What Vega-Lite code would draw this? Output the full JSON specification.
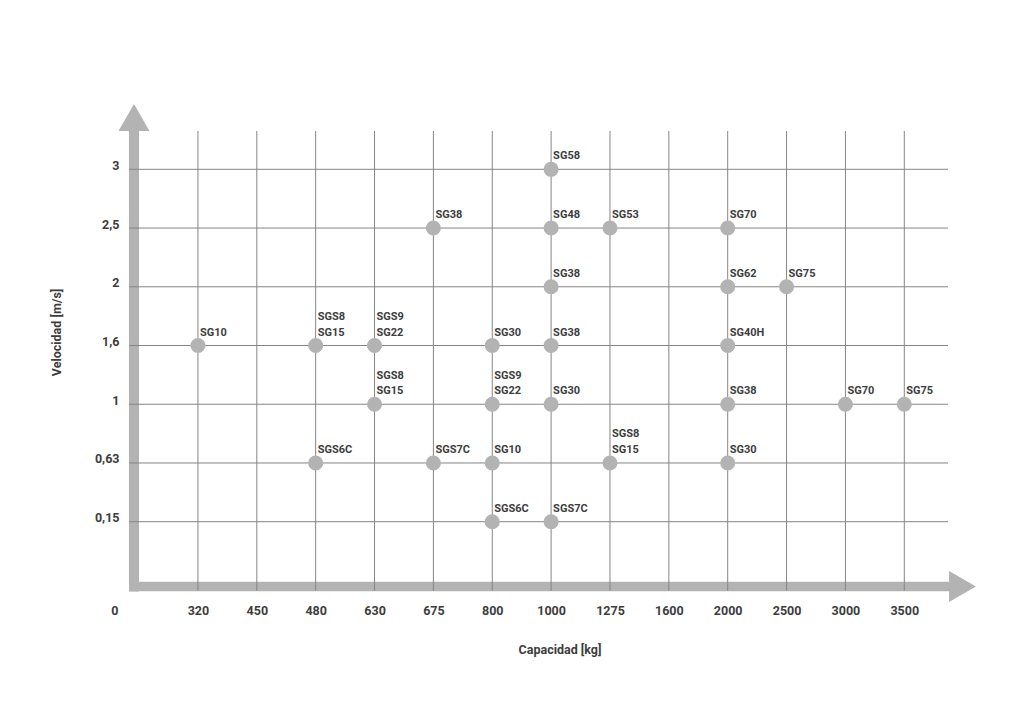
{
  "$schema": "https://vega.github.io/schema/vega-lite/v6.json",
  "width": 819,
  "height": 460,
  "autosize": {"type": "none"},
  "padding": {"left": 129, "top": 131, "right": 76, "bottom": 116},
  "background": "white",
  "config": {"view": {"stroke": null}, "font": "Roboto"},
  "datasets": {
    "capacidades": [
      {"capacidad": 320}, {"capacidad": 450}, {"capacidad": 480}, {"capacidad": 630},
      {"capacidad": 675}, {"capacidad": 800}, {"capacidad": 1000}, {"capacidad": 1275},
      {"capacidad": 1600}, {"capacidad": 2000}, {"capacidad": 2500}, {"capacidad": 3000},
      {"capacidad": 3500}
    ],
    "velocidades": [
      {"velocidad": 3}, {"velocidad": 2.5}, {"velocidad": 2}, {"velocidad": 1.6},
      {"velocidad": 1}, {"velocidad": 0.63}, {"velocidad": 0.15}
    ],
    "modelos": [
      {"capacidad": 320, "velocidad": 1.6, "modelo": "SG10"},
      {"capacidad": 480, "velocidad": 1.6, "modelo": "SG15", "modelo_sup": "SGS8"},
      {"capacidad": 480, "velocidad": 0.63, "modelo": "SGS6C"},
      {"capacidad": 630, "velocidad": 1.6, "modelo": "SG22", "modelo_sup": "SGS9"},
      {"capacidad": 630, "velocidad": 1, "modelo": "SG15", "modelo_sup": "SGS8"},
      {"capacidad": 675, "velocidad": 2.5, "modelo": "SG38"},
      {"capacidad": 675, "velocidad": 0.63, "modelo": "SGS7C"},
      {"capacidad": 800, "velocidad": 1.6, "modelo": "SG30"},
      {"capacidad": 800, "velocidad": 1, "modelo": "SG22", "modelo_sup": "SGS9"},
      {"capacidad": 800, "velocidad": 0.63, "modelo": "SG10"},
      {"capacidad": 800, "velocidad": 0.15, "modelo": "SGS6C"},
      {"capacidad": 1000, "velocidad": 3, "modelo": "SG58"},
      {"capacidad": 1000, "velocidad": 2.5, "modelo": "SG48"},
      {"capacidad": 1000, "velocidad": 2, "modelo": "SG38"},
      {"capacidad": 1000, "velocidad": 1.6, "modelo": "SG38"},
      {"capacidad": 1000, "velocidad": 1, "modelo": "SG30"},
      {"capacidad": 1000, "velocidad": 0.15, "modelo": "SGS7C"},
      {"capacidad": 1275, "velocidad": 2.5, "modelo": "SG53"},
      {"capacidad": 1275, "velocidad": 0.63, "modelo": "SG15", "modelo_sup": "SGS8"},
      {"capacidad": 2000, "velocidad": 2.5, "modelo": "SG70"},
      {"capacidad": 2000, "velocidad": 2, "modelo": "SG62"},
      {"capacidad": 2000, "velocidad": 1.6, "modelo": "SG40H"},
      {"capacidad": 2000, "velocidad": 1, "modelo": "SG38"},
      {"capacidad": 2000, "velocidad": 0.63, "modelo": "SG30"},
      {"capacidad": 2500, "velocidad": 2, "modelo": "SG75"},
      {"capacidad": 3000, "velocidad": 1, "modelo": "SG70"},
      {"capacidad": 3500, "velocidad": 1, "modelo": "SG75"}
    ]
  },
  "layer": [
    {
      "data": {"values": [{}]},
      "layer": [
        {
          "mark": {"type": "rule", "color": "#b3b3b3", "strokeWidth": 10, "strokeCap": "square"},
          "encoding": {
            "x": {"datum": 0, "type": "quantitative", "scale": {"domain": [0, 1], "range": [5, 819]}, "axis": null},
            "y": {"datum": 0, "type": "quantitative", "scale": {"domain": [0, 1], "range": [455.5, 0]}, "axis": null},
            "y2": {"datum": 1}
          }
        },
        {
          "mark": {"type": "rule", "color": "#b3b3b3", "strokeWidth": 9.5, "strokeCap": "square"},
          "encoding": {
            "x": {"datum": 0, "type": "quantitative"},
            "x2": {"datum": 1},
            "y": {"datum": 0, "type": "quantitative"}
          }
        },
        {
          "mark": {"type": "point", "shape": "triangle-up", "size": 961, "filled": true, "opacity": 1, "color": "#b3b3b3", "yOffset": -13.5},
          "encoding": {
            "x": {"datum": 0, "type": "quantitative"},
            "y": {"datum": 1, "type": "quantitative"}
          }
        },
        {
          "mark": {"type": "point", "shape": "triangle-right", "size": 961, "filled": true, "opacity": 1, "color": "#b3b3b3", "xOffset": 14.5},
          "encoding": {
            "x": {"datum": 1, "type": "quantitative"},
            "y": {"datum": 0, "type": "quantitative"}
          }
        },
        {
          "mark": {"type": "text", "text": "0", "align": "right", "baseline": "alphabetic", "dx": -15.5, "dy": 28.5, "fontSize": 12.5, "fontWeight": "bold", "color": "#3d3d3d"},
          "encoding": {
            "x": {"datum": 0, "type": "quantitative"},
            "y": {"datum": 0, "type": "quantitative"}
          }
        }
      ]
    },
    {
      "layer": [
        {
          "data": {"name": "capacidades"},
          "mark": {"type": "rule", "color": "#858585", "strokeWidth": 1},
          "encoding": {
            "x": {
              "field": "capacidad", "type": "ordinal",
              "scale": {"type": "point", "domain": [320, 450, 480, 630, 675, 800, 1000, 1275, 1600, 2000, 2500, 3000, 3500], "padding": 0.957, "align": 0.612, "round": false},
              "axis": {
                "orient": "bottom",
                "title": "Capacidad [kg]", "domain": false, "ticks": false, "grid": false,
                "labelAngle": 0, "labelPadding": 13, "labelFontSize": 12.5, "labelFontWeight": "bold", "labelColor": "#3d3d3d", "labelOverlap": false,
                "titleFontSize": 12.5, "titleFontWeight": "bold", "titleColor": "#3d3d3d",
                "titleX": 430.5, "titleY": 62, "titleAlign": "center", "titleBaseline": "alphabetic"
              }
            }
          }
        },
        {
          "data": {"name": "velocidades"},
          "mark": {"type": "rule", "color": "#858585", "strokeWidth": 1},
          "encoding": {
            "y": {
              "field": "velocidad", "type": "ordinal",
              "scale": {"type": "point", "domain": [3, 2.5, 2, 1.6, 1, 0.63, 0.15], "padding": 0.916, "align": 0.356, "round": false},
              "axis": {
                "orient": "left",
                "title": "Velocidad [m/s]", "domain": false, "ticks": false, "grid": false,
                "labelPadding": 10, "labelFontSize": 12.5, "labelFontWeight": "bold", "labelColor": "#3d3d3d", "labelBaseline": "alphabetic", "labelOverlap": false,
                "labelExpr": "replace(datum.label, '.', ',')",
                "titleFontSize": 12.5, "titleFontWeight": "bold", "titleColor": "#3d3d3d",
                "titleAngle": 270, "titleX": -68.3, "titleY": 201, "titleAlign": "center", "titleBaseline": "alphabetic"
              }
            }
          }
        },
        {
          "data": {"name": "modelos"},
          "mark": {"type": "point", "filled": true, "opacity": 1, "size": 227, "color": "#b3b3b3"},
          "encoding": {
            "x": {"field": "capacidad", "type": "ordinal"},
            "y": {"field": "velocidad", "type": "ordinal"}
          }
        },
        {
          "data": {"name": "modelos"},
          "mark": {"type": "text", "align": "left", "baseline": "alphabetic", "dx": 2, "dy": -10, "fontSize": 11, "fontWeight": "bold", "color": "#3d3d3d"},
          "encoding": {
            "x": {"field": "capacidad", "type": "ordinal"},
            "y": {"field": "velocidad", "type": "ordinal"},
            "text": {"field": "modelo", "type": "nominal"}
          }
        },
        {
          "data": {"name": "modelos"},
          "transform": [{"filter": "isValid(datum.modelo_sup)"}],
          "mark": {"type": "text", "align": "left", "baseline": "alphabetic", "dx": 2, "dy": -25.7, "fontSize": 11, "fontWeight": "bold", "color": "#3d3d3d"},
          "encoding": {
            "x": {"field": "capacidad", "type": "ordinal"},
            "y": {"field": "velocidad", "type": "ordinal"},
            "text": {"field": "modelo_sup", "type": "nominal"}
          }
        }
      ]
    }
  ],
  "resolve": {"scale": {"x": "independent", "y": "independent"}}
}
